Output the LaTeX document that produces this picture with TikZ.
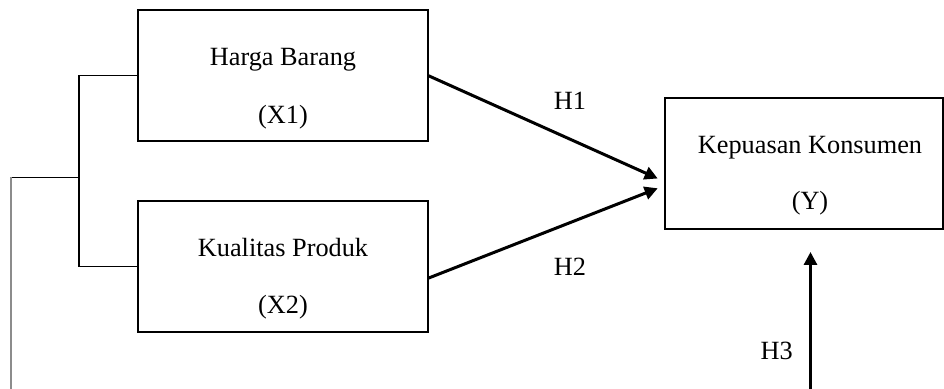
\documentclass[tikz,border=0pt]{standalone}
\usepackage{fontspec}
\setmainfont{Liberation Serif}
\usetikzlibrary{arrows.meta}
\begin{document}
\begin{tikzpicture}[x=0.5pt,y=-0.5pt,
  box/.style={draw=black,line width=0.8pt,minimum width=145pt,minimum height=65.5pt,inner sep=0pt,outer sep=0pt},
  lbl/.style={anchor=base,inner sep=0pt,font=\fontsize{13.15}{16}\selectfont},
  arr/.style={line width=1.5pt,-{Triangle[length=6.5pt,width=6.5pt]}},
  thin/.style={line width=0.75pt}]
\clip (0,0) rectangle (944,389);
\useasboundingbox (0,0) rectangle (944,389);
\node[box] (x1) at (283,75.5) {};
\node[box] (x2) at (283,266.5) {};
\node[box,minimum width=139pt] (y) at (803.8,163.5) {};
\node[lbl] (t1a) at (283,65.7) {Harga Barang};
\node[lbl] (t1b) at (283,123.3) {(X1)};
\node[lbl] (t2a) at (283,256.7) {Kualitas Produk};
\node[lbl] (t2b) at (283,313.3) {(X2)};
\node[lbl] (tya) at (810,153.3) {Kepuasan Konsumen};
\node[lbl] (tyb) at (810,210) {(Y)};
\node[lbl] (h1) at (570,110) {H1};
\node[lbl] (h2) at (570,275.7) {H2};
\node[lbl] (h3) at (776.7,360) {H3};
\coordinate (j) at (79,177.5);
\coordinate (l) at (11,177.5);
\coordinate (lb) at (11,389);
\coordinate (tip1) at (657.7,178.5);
\coordinate (tip2) at (657.7,188.3);
\coordinate (h3s) at (810.5,392);
\coordinate (h3e) at (810.5,252);
\draw[thin] (x1.west) -| (j) |- (x2.west);
\draw[thin] (j) -- (l);
\draw[line width=0.75pt,black!45] (l) -- (lb);
\draw[arr] (x1.east) -- (tip1);
\draw[arr] ([yshift=-5.9pt]x2.east) -- (tip2);
\draw[arr] (h3s) -- (h3e);
\end{tikzpicture}
\end{document}
